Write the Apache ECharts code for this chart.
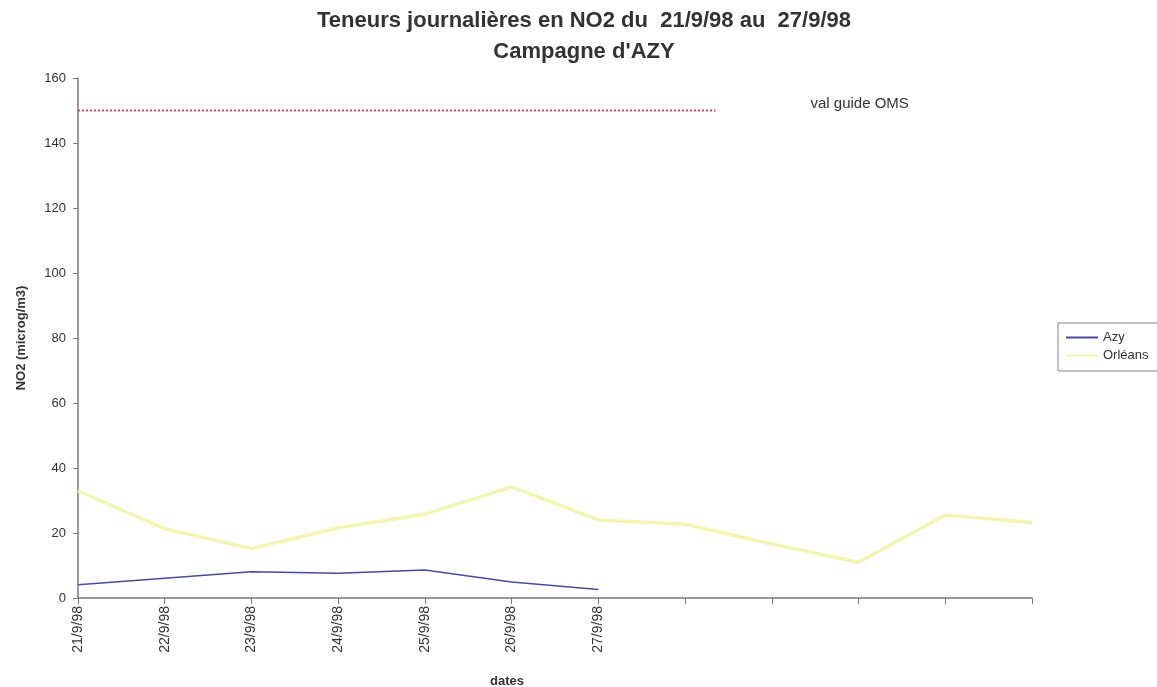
<!DOCTYPE html>
<html>
<head>
<meta charset="utf-8">
<script src="https://cdn.jsdelivr.net/npm/echarts@6/dist/echarts.min.js"></script>
<style>
  html, body { margin: 0; padding: 0; background: #fff; }
  #chart { width: 1157px; height: 687px; }
</style>
</head>
<body>
<div id="chart"></div>
<script>
// Daily NO2 levels, Azy campaign 21/9/98 - 27/9/98

const dates = ['21/9/98', '22/9/98', '23/9/98', '24/9/98', '25/9/98', '26/9/98', '27/9/98', '', '', '', '', ''];
const azy = [4.1, 6.1, 8.1, 7.6, 8.6, 4.9, 2.6];
const orleans = [33, 21.3, 15.2, 21.6, 25.8, 34.2, 24, 22.7, 16.6, 11, 25.5, 23.2];
// WHO guide value, drawn from the first category to about 7.35 categories along
const guideX = [0, 7.35];
const guideValue = [150, 150];
const yTicks = { min: 0, max: 160, interval: 20 };

const FONT = '"Liberation Sans", Arial, sans-serif';
const AXIS = '#7a7a7a';
const TEXT = '#333';

const chart = echarts.init(document.getElementById('chart'), null, { renderer: 'canvas' });

chart.setOption({
  backgroundColor: '#fff',
  animation: false,
  textStyle: { fontFamily: FONT },
  title: {
    text: 'Teneurs journalières en NO2 du  21/9/98 au  27/9/98\nCampagne d\'AZY',
    left: 579, top: 0, textAlign: 'center',
    textStyle: { fontSize: 22, fontWeight: 'bold', color: TEXT, lineHeight: 31, fontFamily: FONT },
  },
  legend: {
    orient: 'vertical',
    left: 1058, top: 323,
    data: ['Azy', 'Orléans'],
    icon: 'rect',
    borderColor: '#888', borderWidth: 1,
    padding: [8, 10, 9, 8],
    itemGap: 5, itemWidth: 32, itemHeight: 2,
    textStyle: { fontSize: 13, color: TEXT, fontFamily: FONT },
  },
  grid: { left: 78, right: 125, top: 78, bottom: 89 },
  xAxis: [
    {
      type: 'category',
      data: dates,
      boundaryGap: false,
      axisLine: { lineStyle: { color: AXIS, width: 1.5 } },
      axisTick: { show: true, inside: false, length: 6, alignWithLabel: true, lineStyle: { color: AXIS } },
      axisLabel: { rotate: 90, interval: 0, fontSize: 14, color: TEXT, margin: 8, fontFamily: FONT },
      splitLine: { show: false },
    },
    {
      type: 'value',
      min: 0, max: dates.length - 1,
      show: false,
      position: 'bottom',
    },
  ],
  yAxis: {
    type: 'value',
    min: yTicks.min, max: yTicks.max, interval: yTicks.interval,
    name: 'NO2 (microg/m3)',
    nameLocation: 'middle',
    nameGap: 50,
    nameTextStyle: { fontSize: 13, fontWeight: 'bold', color: TEXT, fontFamily: FONT },
    axisLine: { show: true, lineStyle: { color: AXIS, width: 1.5 } },
    axisTick: { show: true, length: 5, lineStyle: { color: AXIS } },
    axisLabel: { fontSize: 13, color: TEXT, margin: 12, fontFamily: FONT },
    splitLine: { show: false },
  },
  graphic: [
    {
      type: 'text', left: 490, top: 675,
      style: { text: 'dates', fill: TEXT, font: 'bold 13px ' + FONT },
    },
  ],
  series: [
    {
      name: 'Azy', type: 'line', xAxisIndex: 0,
      data: azy,
      symbol: 'none',
      color: '#4a4a9c',
      lineStyle: { width: 1.5, color: '#4a4a9c' },
    },
    {
      name: 'Orléans', type: 'line', xAxisIndex: 0,
      data: orleans,
      symbol: 'none',
      color: '#f3f5b3',
      lineStyle: { width: 3.5, color: '#f3f5b3' },
    },
    {
      name: 'val guide OMS', type: 'line', xAxisIndex: 1,
      data: guideX.map((x, i) => [x, guideValue[i]]),
      symbol: 'none',
      color: '#e0445e',
      lineStyle: { width: 2, type: 'dotted', color: '#e0445e' },
      endLabel: {
        show: true, distance: 95,
        formatter: 'val guide OMS',
        fontSize: 15, color: TEXT, fontFamily: FONT,
        offset: [0, -7],
      },
    },
  ],
});
</script>
</body>
</html>
